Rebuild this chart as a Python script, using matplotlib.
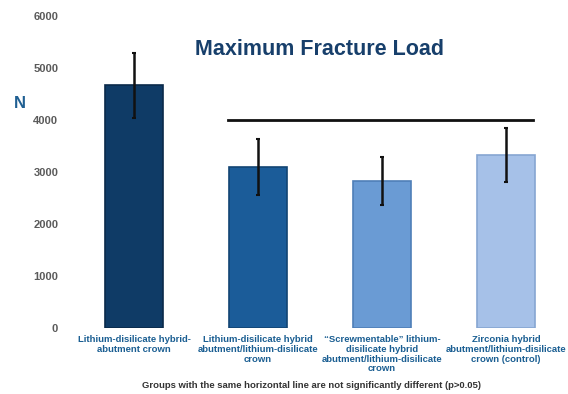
import matplotlib
matplotlib.use("Agg")
import matplotlib.pyplot as plt

# mean fracture load (N) and standard deviation per group
groups = [
    "Lithium-disilicate hybrid-\nabutment crown",
    "Lithium-disilicate hybrid\nabutment/lithium-disilicate\ncrown",
    "\u201cScrewmentable\u201d lithium-\ndisilicate hybrid\nabutment/lithium-disilicate\ncrown",
    "Zirconia hybrid\nabutment/lithium-disilicate\ncrown (control)",
]
mean_load = [4670, 3100, 2830, 3330]
sd_load = [620, 540, 460, 520]
# groups joined by the "not significantly different" line
same_group = [1, 2, 3]
same_level = 4000

colors = ["#0f3b66", "#1b5c99", "#6a9bd4", "#a6c1e8"]
edges = ["#0a2a4a", "#124473", "#4f7fb8", "#86a6d2"]

plt.rcParams["font.family"] = ["Liberation Sans", "DejaVu Sans"]

fig = plt.figure(figsize=(5.68, 3.94), dpi=100)
ax = fig.add_axes([0.127, 0.1675, 0.873, 0.7915])

x = list(range(len(groups)))
ax.bar(x, mean_load, width=0.47, color=colors, edgecolor=edges, linewidth=1.2,
       zorder=2)
ax.errorbar(x, mean_load, yerr=sd_load, fmt="none", ecolor="#111111",
            elinewidth=1.8, capsize=1.5, capthick=1.5, zorder=3)

ax.plot([min(same_group) - 0.24, max(same_group) + 0.22], [same_level, same_level],
        color="#111111", lw=2, zorder=3)

ax.set_xlim(-0.5, 3.5)
ax.set_ylim(0, 6000)
ax.set_yticks(range(0, 6001, 1000))
ax.set_yticklabels([str(v) for v in range(0, 6001, 1000)],
                   fontsize=8, fontweight="bold", color="#5a5a5a")
ax.tick_params(axis="y", length=0, pad=10)
ax.set_xticks([])
for s in ax.spines.values():
    s.set_visible(False)

for xi, lab in zip(x, groups):
    ax.text(xi, -140, lab, ha="center", va="top", fontsize=6.8,
            fontweight="bold", color="#1a5e92", linespacing=1.1)

fig.text(0.563, 0.875, "Maximum Fracture Load", ha="center", va="center",
         fontsize=15.5, fontweight="bold", color="#173f6b")
fig.text(0.035, 0.738, "N", ha="center", va="center", fontsize=12,
         fontweight="bold", color="#1f5f92")
fig.text(0.548, 0.022, "Groups with the same horizontal line are not "
         "significantly different (p>0.05)", ha="center", va="center",
         fontsize=6.8, fontweight="bold", color="#333333")

fig.savefig("out.png", dpi=100, facecolor="white")
